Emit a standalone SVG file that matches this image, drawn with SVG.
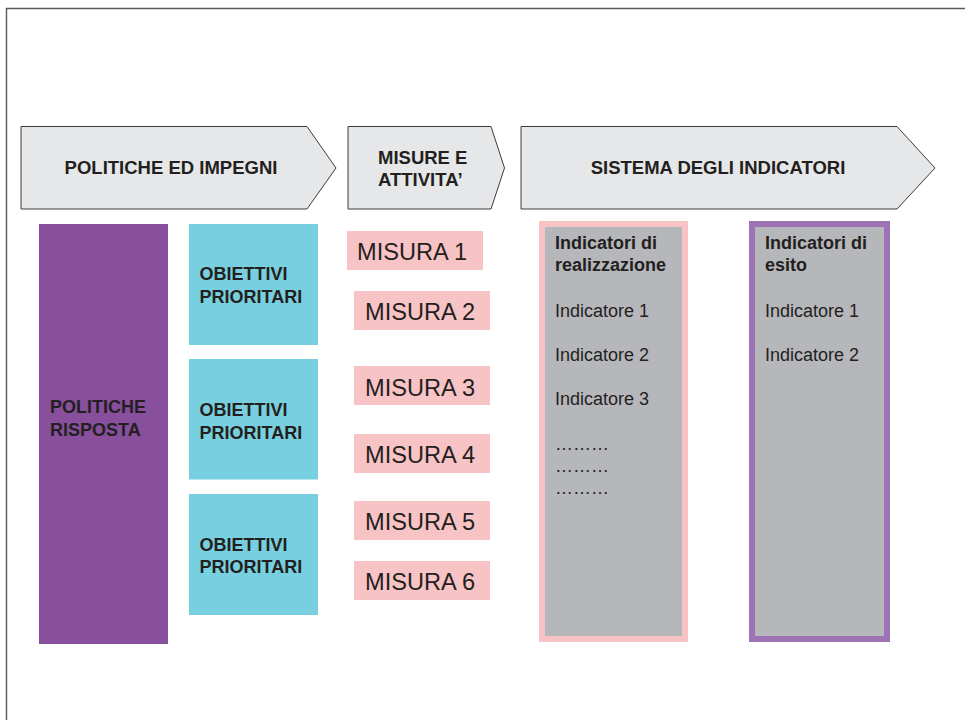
<svg xmlns="http://www.w3.org/2000/svg" width="965" height="720" viewBox="0 0 965 720">
  <style>
    .frame { fill: none; stroke: #5a5a5a; stroke-width: 1.4; }
    .stage { fill: #e6e7e8; stroke: #3c3c3c; stroke-width: 1; stroke-linejoin: miter; }
    .head { font-family: "Liberation Sans", Arial, sans-serif; font-weight: bold; font-size: 18.5px; fill: #231f20; }
    .bold { font-family: "Liberation Sans", Arial, sans-serif; font-weight: bold; font-size: 18px; fill: #231f20; }
    .reg { font-family: "Liberation Sans", Arial, sans-serif; font-size: 18px; fill: #231f20; }
    .mis { font-family: "Liberation Sans", Arial, sans-serif; font-size: 23.6px; fill: #231f20; }
    .policy { fill: #884f9d; }
    .goal { fill: #77cfdf; }
    .measure { fill: #f8c3c5; }
    .ind-out { fill: #b6b7bb; stroke: #f8c3c5; stroke-width: 6; }
    .ind-res { fill: #b6b7bb; stroke: #9d73b5; stroke-width: 6; }
  </style>

  <rect width="965" height="720" fill="#ffffff"/>
  <!-- page frame (top and left edges) -->
  <path class="frame" d="M6.5,720 V8.5 H965"/>

  <!-- stage headers -->
  <g id="stage-politiche">
    <path class="stage" d="M21,126.5 H307 L336,168 L307,209 H21 Z"/>
    <text class="head" x="171" y="174" text-anchor="middle">POLITICHE ED IMPEGNI</text>
  </g>
  <g id="stage-misure">
    <path class="stage" d="M348,126.5 H491 L504.5,168 L491,209 H348 Z"/>
    <text class="head" x="378" y="163.5">MISURE E</text>
    <text class="head" x="378" y="186">ATTIVITA’</text>
  </g>
  <g id="stage-indicatori">
    <path class="stage" d="M521,126.5 H897 L935,168 L897,209 H521 Z"/>
    <text class="head" x="718" y="174" text-anchor="middle">SISTEMA DEGLI INDICATORI</text>
  </g>

  <!-- response policies -->
  <g id="politiche-risposta">
    <rect class="policy" x="39" y="224" width="129" height="420"/>
    <text class="bold" x="50" y="413">POLITICHE</text>
    <text class="bold" x="50" y="436">RISPOSTA</text>
  </g>

  <!-- priority objectives -->
  <g id="obiettivi-1">
    <rect class="goal" x="189" y="224" width="129" height="121"/>
    <text class="bold" x="199.5" y="280">OBIETTIVI</text>
    <text class="bold" x="199.5" y="302.5">PRIORITARI</text>
  </g>
  <g id="obiettivi-2">
    <rect class="goal" x="189" y="359" width="129" height="120.5"/>
    <text class="bold" x="199.5" y="416">OBIETTIVI</text>
    <text class="bold" x="199.5" y="438.5">PRIORITARI</text>
  </g>
  <g id="obiettivi-3">
    <rect class="goal" x="189" y="494" width="129" height="121"/>
    <text class="bold" x="199.5" y="551">OBIETTIVI</text>
    <text class="bold" x="199.5" y="573">PRIORITARI</text>
  </g>

  <!-- measures -->
  <g id="misura-1">
    <rect class="measure" x="347" y="231" width="136" height="39"/>
    <text class="mis" x="357" y="260">MISURA 1</text>
  </g>
  <g id="misura-2">
    <rect class="measure" x="354" y="291" width="136" height="39"/>
    <text class="mis" x="365" y="320">MISURA 2</text>
  </g>
  <g id="misura-3">
    <rect class="measure" x="354" y="366" width="136" height="39"/>
    <text class="mis" x="365" y="395.5">MISURA 3</text>
  </g>
  <g id="misura-4">
    <rect class="measure" x="354" y="434" width="136" height="39"/>
    <text class="mis" x="365" y="462.5">MISURA 4</text>
  </g>
  <g id="misura-5">
    <rect class="measure" x="354" y="501" width="136" height="39"/>
    <text class="mis" x="365" y="530">MISURA 5</text>
  </g>
  <g id="misura-6">
    <rect class="measure" x="354" y="561" width="136" height="39"/>
    <text class="mis" x="365" y="590">MISURA 6</text>
  </g>

  <!-- output indicators -->
  <g id="indicatori-realizzazione">
    <rect class="ind-out" x="542" y="224" width="143" height="415"/>
    <text class="bold" x="555" y="248.5">Indicatori di</text>
    <text class="bold" x="555" y="271">realizzazione</text>
    <text class="reg" x="555" y="316.5">Indicatore 1</text>
    <text class="reg" x="555" y="360.5">Indicatore 2</text>
    <text class="reg" x="555" y="404.5">Indicatore 3</text>
    <text class="reg" x="555" y="450">………</text>
    <text class="reg" x="555" y="472">………</text>
    <text class="reg" x="555" y="494">………</text>
  </g>

  <!-- outcome indicators -->
  <g id="indicatori-esito">
    <rect class="ind-res" x="752" y="224" width="135" height="415"/>
    <text class="bold" x="765" y="248.5">Indicatori di</text>
    <text class="bold" x="765" y="271">esito</text>
    <text class="reg" x="765" y="316.5">Indicatore 1</text>
    <text class="reg" x="765" y="360.5">Indicatore 2</text>
  </g>

  <g id="connectors"/>
</svg>
